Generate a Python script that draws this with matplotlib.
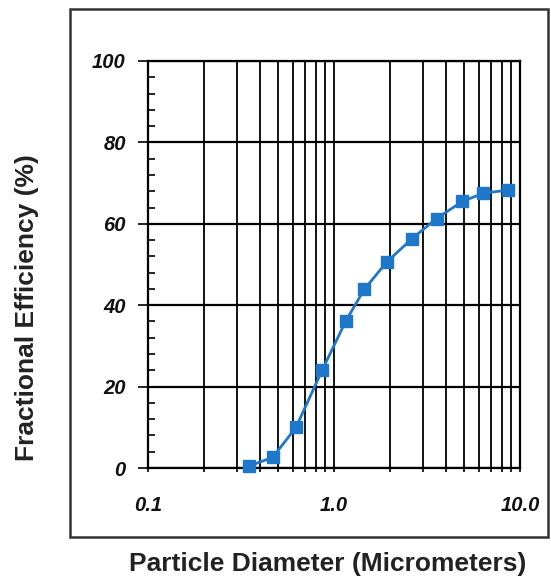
import matplotlib
matplotlib.use("Agg")
import matplotlib.pyplot as plt
from matplotlib.patches import Rectangle
from matplotlib.ticker import FixedLocator, LogLocator, NullFormatter, MultipleLocator

# Data
diameter_um = [0.35, 0.468, 0.625, 0.865, 1.16, 1.455, 1.92, 2.62, 3.56, 4.90, 6.35, 8.65]
efficiency_pct = [0.5, 2.6, 10.0, 24.1, 36.2, 43.9, 50.6, 56.3, 61.3, 65.5, 67.5, 68.3]
x_ticks = [0.1, 1.0, 10.0]
x_tick_labels = ["0.1", "1.0", "10.0"]
y_ticks = [0, 20, 40, 60, 80, 100]
x_label = "Particle Diameter (Micrometers)"
y_label = "Fractional Efficiency (%)"

W, H = 551, 579
fig = plt.figure(figsize=(W / 100, H / 100), dpi=100)
fig.patch.set_facecolor("white")

# Outer frame
fig.patches.append(Rectangle((70 / W, 1 - 537 / H), (548 - 70) / W, (537 - 9) / H,
                             transform=fig.transFigure, fill=False,
                             edgecolor="#333333", linewidth=1.8))

ax = fig.add_axes([148 / W, 1 - 468 / H, (520 - 148) / W, (468 - 61) / H])
ax.set_xscale("log")
ax.set_xlim(0.1, 10)
ax.set_ylim(0, 100)

ax.xaxis.set_major_locator(FixedLocator(x_ticks))
ax.xaxis.set_minor_locator(LogLocator(base=10, subs=range(2, 10)))
ax.xaxis.set_minor_formatter(NullFormatter())
ax.set_xticks(x_ticks)
ax.set_xticklabels(x_tick_labels)
ax.set_yticks(y_ticks)
ax.yaxis.set_minor_locator(MultipleLocator(4))

ax.grid(True, which="major", axis="x", color="black", linewidth=1.3)
ax.grid(True, which="minor", axis="x", color="black", linewidth=1.3)
ax.grid(True, which="major", axis="y", color="black", linewidth=1.6)

for s in ax.spines.values():
    s.set_linewidth(1.6)
    s.set_color("black")

for lbl in ax.get_xticklabels() + ax.get_yticklabels():
    lbl.set_fontfamily("Liberation Sans")
    lbl.set_fontweight("bold")
    lbl.set_fontstyle("italic")
    lbl.set_fontsize(14.5)
    lbl.set_color("#111111")

ax.tick_params(axis="x", which="both", direction="out", length=3, width=1.2, pad=17)
ax.tick_params(axis="y", which="major", direction="out", length=7, width=1.2, pad=9)
ax.tick_params(axis="y", which="minor", direction="in", length=5, width=1.2)

ax.plot(diameter_um, efficiency_pct, color="#1f77c9", linewidth=2.0, marker="s",
        markersize=8.5, markerfacecolor="#1f77c9", markeredgecolor="#1f77c9",
        zorder=5, clip_on=False)

fig.text(328 / W, 1 - 564 / H, x_label, ha="center", va="center",
         fontsize=19, fontweight="bold", family="Liberation Sans", color="#222222")
fig.text(27 / W, 1 - 308 / H, y_label, ha="center", va="center", rotation=90,
         fontsize=19, fontweight="bold", family="Liberation Sans", color="#222222")

fig.savefig("out.png", dpi=100, facecolor="white")
